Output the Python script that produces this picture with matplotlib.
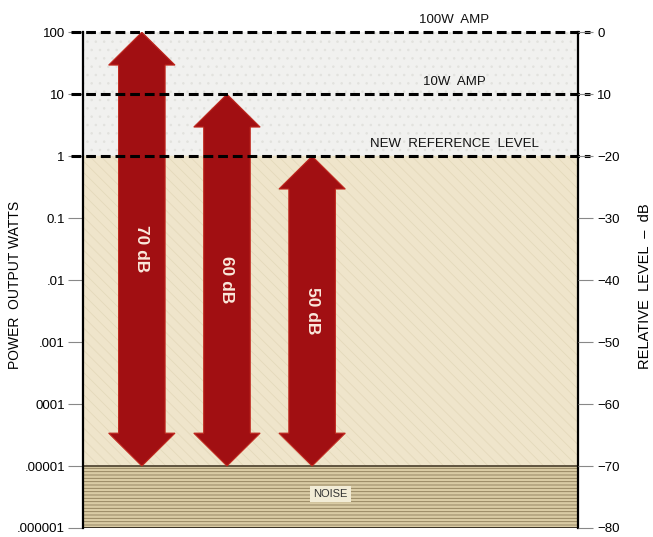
import numpy as np
import matplotlib
matplotlib.use("Agg")
import matplotlib.pyplot as plt
from matplotlib.patches import Polygon

plt.rcParams['font.family'] = ['Liberation Sans', 'DejaVu Sans']
plt.rcParams['hatch.linewidth'] = 0.6

# data
watt_ticks = [100, 10, 1, 0.1, 0.01, 0.001, 0.0001, 0.00001, 0.000001]
watt_labels = ['100', '10', '1', '0.1', '.01', '.001', '0001', '.00001', '.000001']
db_labels = ['0', '10', '\u221220', '\u221230', '\u221240', '\u221250', '\u221260', '\u221270', '\u221280']
ref_levels = [100, 10, 1]
ref_names = ['100W  AMP', '10W  AMP', 'NEW  REFERENCE  LEVEL']
noise_floor = 0.00001
arrow_tops = [100, 10, 1]
arrow_labels = ['70 dB', '60 dB', '50 dB']

fig = plt.figure(figsize=(6.53, 5.37), dpi=100)
ax = fig.add_axes([0.127, 0.0168, 0.758, 0.9232])
ax.set_yscale('log')
ax.set_ylim(1e-6, 100)
ax.set_xlim(0, 1)

# background zones
ax.axhspan(1, 100, color='#f1f1ef', zorder=0)
ax.axhspan(1, 100, facecolor='none', edgecolor='#e2e2de', hatch='..', lw=0, zorder=0)
ax.axhspan(noise_floor, 1, color='#efe5cb', zorder=0)
ax.axhspan(noise_floor, 1, facecolor='none', edgecolor='#e4d9bb', hatch='\\\\\\', lw=0, zorder=0)
ax.axhspan(1e-6, noise_floor, color='#d9cba4', zorder=0)
ax.axhspan(1e-6, noise_floor, facecolor='none', edgecolor='#8c7c58', hatch='-----', lw=0, zorder=0)
ax.axhline(noise_floor, color='#4a3f2c', lw=1.2, zorder=1)
ax.axhline(1e-6, color='#2a241a', lw=2, zorder=1)

# dashed reference lines
for lv, name in zip(ref_levels, ref_names):
    ax.plot([-0.025, 1.025], [lv, lv], color='black', lw=2.2, ls=(0, (3.2, 1.6)),
            clip_on=False, zorder=4)
    ax.text(0.75, lv * 10 ** 0.2, name, ha='center', va='center', fontsize=9.5,
            color='#111111', zorder=5)

# double arrows
centers = [0.119, 0.291, 0.463]
shaft_w = 0.047
head_w = 0.067
head_dec = 0.53
for cx, top, lab in zip(centers, arrow_tops, arrow_labels):
    lo = noise_floor
    top_b = top / 10 ** head_dec
    lo_b = lo * 10 ** head_dec
    pts = [(cx, top), (cx + head_w, top_b), (cx + shaft_w, top_b),
           (cx + shaft_w, lo_b), (cx + head_w, lo_b), (cx, lo),
           (cx - head_w, lo_b), (cx - shaft_w, lo_b), (cx - shaft_w, top_b),
           (cx - head_w, top_b)]
    ax.add_patch(Polygon(pts, closed=True, facecolor='#a10f12', edgecolor='#c0281e',
                         lw=0.8, zorder=3))
    ax.text(cx, np.sqrt(top * lo), lab, rotation=-90, ha='center', va='center',
            color='#fbe9dc', fontsize=12.5, fontweight='bold', zorder=5)

ax.text(0.5, 10 ** -5.45, 'NOISE', ha='center', va='center', fontsize=8,
        color='#333333', zorder=5,
        bbox=dict(boxstyle='square,pad=0.3', facecolor='#f2ecd6', edgecolor='none'))

# axes / ticks
for s in ['top', 'bottom']:
    ax.spines[s].set_visible(False)
for s in ['left', 'right']:
    ax.spines[s].set_linewidth(1.6)
ax.set_xticks([])
ax.minorticks_off()
ax.set_yticks(watt_ticks)
ax.set_yticklabels(watt_labels, fontsize=9.5)
ax.tick_params(axis='y', length=11, width=0.8, color='#888888', pad=2)

ax2 = ax.twinx()
ax2.set_yscale('log')
ax2.set_ylim(ax.get_ylim())
ax2.minorticks_off()
ax2.set_yticks(watt_ticks)
ax2.set_yticklabels(db_labels, fontsize=9.5)
ax2.tick_params(axis='y', length=11, width=0.8, color='#888888', pad=3)
for s in ['top', 'bottom', 'left', 'right']:
    ax2.spines[s].set_visible(False)

fig.text(0.023, 0.469, 'POWER  OUTPUT WATTS', rotation=90, ha='center', va='center',
         fontsize=10)
fig.text(0.988, 0.467, 'RELATIVE  LEVEL  \u2013  dB', rotation=90, ha='center',
         va='center', fontsize=10.5)

fig.savefig('out.png', dpi=100, facecolor='white')
